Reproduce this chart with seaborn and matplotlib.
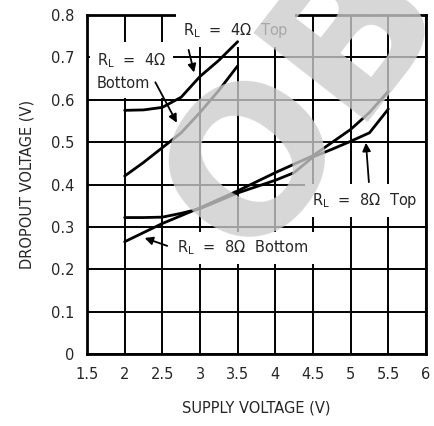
import pandas as pd
import matplotlib
matplotlib.use('Agg')
import matplotlib.pyplot as plt
import seaborn as sns

# curves (supply V -> dropout V)
supply_4_top = [2.0, 2.25, 2.5, 2.75, 3.0, 3.25, 3.5]
drop_4_top = [0.575, 0.576, 0.582, 0.606, 0.655, 0.693, 0.737]
supply_4_bot = [2.0, 2.25, 2.5, 2.75, 3.0, 3.25, 3.5]
drop_4_bot = [0.42, 0.452, 0.487, 0.522, 0.57, 0.622, 0.68]
supply_8_top = [2.0, 2.25, 2.5, 2.75, 3.0, 3.5, 4.0, 4.25, 4.5, 4.75, 5.0, 5.25, 5.5]
drop_8_top = [0.322, 0.322, 0.323, 0.332, 0.343, 0.38, 0.41, 0.428, 0.465, 0.483, 0.502, 0.522, 0.578]
supply_8_bot = [2.0, 2.5, 3.0, 3.5, 4.0, 4.5, 5.0, 5.25, 5.5]
drop_8_bot = [0.265, 0.308, 0.345, 0.385, 0.428, 0.468, 0.53, 0.57, 0.62]

x_ticks = [1.5, 2, 2.5, 3, 3.5, 4, 4.5, 5, 5.5, 6]
x_labels = ['1.5', '2', '2.5', '3', '3.5', '4', '4.5', '5', '5.5', '6']
y_ticks = [0, 0.1, 0.2, 0.3, 0.4, 0.5, 0.6, 0.7, 0.8]
y_labels = ['0', '0.1', '0.2', '0.3', '0.4', '0.5', '0.6', '0.7', '0.8']

frames = []
for name, xs, ys in [('4 top', supply_4_top, drop_4_top), ('4 bot', supply_4_bot, drop_4_bot),
                     ('8 top', supply_8_top, drop_8_top), ('8 bot', supply_8_bot, drop_8_bot)]:
    frames.append(pd.DataFrame({'supply': xs, 'dropout': ys, 'curve': name}))
df = pd.concat(frames, ignore_index=True)

sns.set_style('white')
plt.rcParams['font.family'] = ['DejaVu Sans']

fig = plt.figure(figsize=(4.34, 4.26), dpi=100)
ax = fig.add_axes([0.2005, 0.169, 0.781, 0.7958])

sns.lineplot(data=df, x='supply', y='dropout', hue='curve', sort=False, estimator=None,
             palette=['black'] * 4, linewidth=2.0, legend=False, ax=ax, zorder=5)

ax.set_xlim(1.5, 6)
ax.set_ylim(0, 0.8)
ax.set_xticks(x_ticks)
ax.set_xticklabels(x_labels)
ax.set_yticks(y_ticks)
ax.set_yticklabels(y_labels)
ax.grid(True, color='black', linewidth=1.4, zorder=1)
ax.set_axisbelow(True)
ax.tick_params(length=0, labelsize=10.5, pad=9)
for s in ax.spines.values():
    s.set_linewidth(2)
    s.set_color('black')
ax.set_xlabel('SUPPLY VOLTAGE (V)', fontsize=10.5, labelpad=14)
ax.set_ylabel('DROPOUT VOLTAGE (V)', fontsize=10.5, labelpad=12)

box = dict(facecolor='white', edgecolor='none', pad=5)
kw = dict(fontsize=10.5, va='center', ha='left', bbox=box, zorder=3)
ax.text(2.77, 0.763, r'R$_\mathregular{L}$  =  4$\Omega$  Top', **kw)
ax.text(1.63, 0.715, r'R$_\mathregular{L}$  =  4$\Omega$' + '\nBottom', linespacing=1.5,
        fontsize=10.5, va='top', ha='left', bbox=box, zorder=3)
ax.text(4.49, 0.363, r'R$_\mathregular{L}$  =  8$\Omega$  Top', **kw)
ax.text(2.69, 0.25, r'R$_\mathregular{L}$  =  8$\Omega$  Bottom', **kw)

arrow = dict(arrowstyle='-|>', color='black', lw=1.3, mutation_scale=12)
ax.annotate('', xy=(2.93, 0.658), xytext=(2.84, 0.724), arrowprops=arrow, zorder=6)
ax.annotate('', xy=(2.71, 0.54), xytext=(2.39, 0.647), arrowprops=arrow, zorder=6)
ax.annotate('', xy=(5.2, 0.505), xytext=(5.245, 0.399), arrowprops=arrow, zorder=6)
ax.annotate('', xy=(2.23, 0.276), xytext=(2.6, 0.253), arrowprops=arrow, zorder=6)

# the grey "OBSOLETE" stamp over the plot
fig.text(0.574, 0.385, 'OBSOLETE', fontsize=144, fontweight='bold', family='DejaVu Sans',
         color='#cccccc', alpha=0.79, rotation=52, rotation_mode='anchor',
         ha='left', va='baseline', zorder=20)

fig.savefig('out.png', dpi=100)
